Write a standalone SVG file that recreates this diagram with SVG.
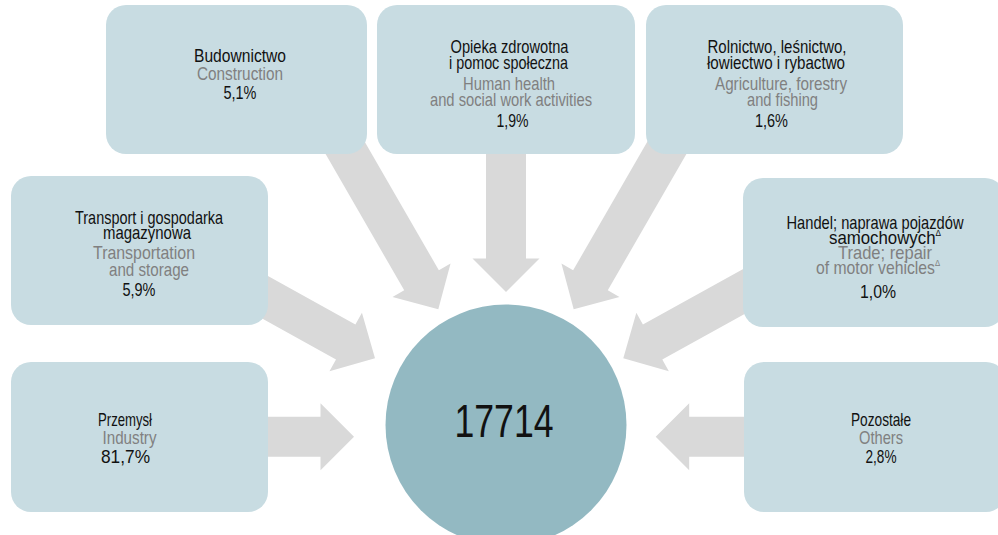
<svg xmlns="http://www.w3.org/2000/svg" xmlns:xlink="http://www.w3.org/1999/xlink" width="998" height="535" viewBox="0 0 998 535">
<style>
.box{fill:#c8dce2}
.arr{fill:#d9d9d9}
text{font-family:"Liberation Sans Narrow","Arial Narrow","Liberation Sans",Arial,sans-serif;font-size:18.5px;text-anchor:middle}
.pl{fill:#111111}
.en{fill:#808080}
.sup{font-size:9px}
.big{font-size:47px;fill:#111111}
</style>
<defs>
<polygon id="arrow" points="-200,-20 -33.5,-20 -33.5,-33.5 0,0 -33.5,33.5 -33.5,20 -200,20"/>
</defs>
<g id="connectors" class="arr">
<use xlink:href="#arrow" href="#arrow" transform="translate(354,436.7)"/>
<use xlink:href="#arrow" href="#arrow" transform="translate(375,358.3) rotate(29)"/>
<use xlink:href="#arrow" href="#arrow" transform="translate(438.3,309.3) rotate(60)"/>
<use xlink:href="#arrow" href="#arrow" transform="translate(506,292) rotate(90)"/>
<use xlink:href="#arrow" href="#arrow" transform="translate(573.7,309.3) rotate(120)"/>
<use xlink:href="#arrow" href="#arrow" transform="translate(623.3,358.3) rotate(151)"/>
<use xlink:href="#arrow" href="#arrow" transform="translate(655.7,436.7) rotate(180)"/>
</g>
<g id="center">
<circle cx="506" cy="425" r="120.5" fill="#93b9c2"/>
<text class="big" x="504" y="437" textLength="99" lengthAdjust="spacingAndGlyphs">17714</text>
</g>
<g id="budownictwo">
<rect class="box" x="106" y="5" width="261" height="149" rx="20"/>
<text class="pl" x="240" y="61.5" textLength="92" lengthAdjust="spacingAndGlyphs">Budownictwo</text>
<text class="en" x="240" y="80" textLength="86" lengthAdjust="spacingAndGlyphs">Construction</text>
<text class="pl" x="240" y="99" textLength="33" lengthAdjust="spacingAndGlyphs">5,1%</text>
</g>
<g id="opieka">
<rect class="box" x="377" y="5" width="258" height="149" rx="20"/>
<text class="pl" x="509.5" y="53" textLength="118" lengthAdjust="spacingAndGlyphs">Opieka zdrowotna</text>
<text class="pl" x="508.5" y="69" textLength="119" lengthAdjust="spacingAndGlyphs">i pomoc społeczna</text>
<text class="en" x="509" y="90" textLength="92" lengthAdjust="spacingAndGlyphs">Human health</text>
<text class="en" x="511" y="106" textLength="162" lengthAdjust="spacingAndGlyphs">and social work activities</text>
<text class="pl" x="512.5" y="127" textLength="32" lengthAdjust="spacingAndGlyphs">1,9%</text>
</g>
<g id="rolnictwo">
<rect class="box" x="646" y="5" width="257" height="149" rx="20"/>
<text class="pl" x="777" y="53" textLength="139" lengthAdjust="spacingAndGlyphs">Rolnictwo, leśnictwo,</text>
<text class="pl" x="776" y="69" textLength="138" lengthAdjust="spacingAndGlyphs">łowiectwo i rybactwo</text>
<text class="en" x="781" y="90" textLength="132" lengthAdjust="spacingAndGlyphs">Agriculture, forestry</text>
<text class="en" x="782.5" y="106" textLength="71" lengthAdjust="spacingAndGlyphs">and fishing</text>
<text class="pl" x="771.5" y="127" textLength="33" lengthAdjust="spacingAndGlyphs">1,6%</text>
</g>
<g id="transport">
<rect class="box" x="11" y="176" width="257" height="149" rx="20"/>
<text class="pl" x="149" y="224" textLength="148" lengthAdjust="spacingAndGlyphs">Transport i gospodarka</text>
<text class="pl" x="147" y="239" textLength="88" lengthAdjust="spacingAndGlyphs">magazynowa</text>
<text class="en" x="144" y="259" textLength="102" lengthAdjust="spacingAndGlyphs">Transportation</text>
<text class="en" x="149" y="276" textLength="80" lengthAdjust="spacingAndGlyphs">and storage</text>
<text class="pl" x="139" y="296" textLength="33" lengthAdjust="spacingAndGlyphs">5,9%</text>
</g>
<g id="handel">
<rect class="box" x="743" y="178" width="262" height="149" rx="20"/>
<text class="pl" x="875" y="229" textLength="177" lengthAdjust="spacingAndGlyphs">Handel; naprawa pojazdów</text>
<text class="pl" x="885" y="244" textLength="112" lengthAdjust="spacingAndGlyphs">samochowych<tspan class="sup" dy="-8">Δ</tspan></text>
<text class="en" x="885" y="259" textLength="94" lengthAdjust="spacingAndGlyphs">Trade; repair</text>
<text class="en" x="878" y="274" textLength="124" lengthAdjust="spacingAndGlyphs">of motor vehicles<tspan class="sup" dy="-8">Δ</tspan></text>
<text class="pl" x="878" y="298" textLength="36" lengthAdjust="spacingAndGlyphs">1,0%</text>
</g>
<g id="przemysl">
<rect class="box" x="11" y="362" width="257" height="150" rx="20"/>
<text class="pl" x="125" y="426" textLength="54" lengthAdjust="spacingAndGlyphs">Przemysł</text>
<text class="en" x="129.5" y="444" textLength="54" lengthAdjust="spacingAndGlyphs">Industry</text>
<text class="pl" x="125.5" y="463" textLength="49" lengthAdjust="spacingAndGlyphs">81,7%</text>
</g>
<g id="pozostale">
<rect class="box" x="744" y="362" width="262" height="150" rx="20"/>
<text class="pl" x="881" y="426" textLength="60" lengthAdjust="spacingAndGlyphs">Pozostałe</text>
<text class="en" x="881" y="444" textLength="44" lengthAdjust="spacingAndGlyphs">Others</text>
<text class="pl" x="881" y="463" textLength="31" lengthAdjust="spacingAndGlyphs">2,8%</text>
</g>
</svg>
